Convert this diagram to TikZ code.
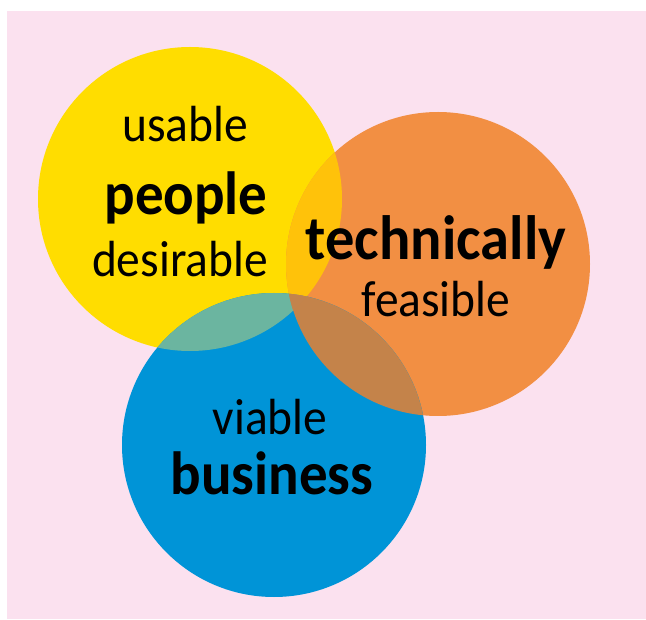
\documentclass[tikz,border=0pt]{standalone}
\usepackage{fontspec}
\setmainfont{Carlito}
\definecolor{bgpink}{HTML}{FBE1EF}
\definecolor{cyel}{HTML}{FFDD00}
\definecolor{cora}{HTML}{F28F43}
\definecolor{cblu}{HTML}{0094D7}
\definecolor{cyo}{HTML}{FFC20A}
\definecolor{cyb}{HTML}{6BB5A0}
\definecolor{cob}{HTML}{C4834A}
\definecolor{cyob}{HTML}{C3834C}
\newcommand{\tallt}[1]{\scalebox{1}[1.07]{#1}}
\begin{document}
\begin{tikzpicture}[x=1pt,y=-1pt,
  reg/.style={font=\fontsize{47.5}{47.5}\selectfont, anchor=base, inner sep=0pt},
  big/.style={font=\fontsize{57}{57}\selectfont\bfseries, anchor=base, inner sep=0pt}]
\useasboundingbox (0,0) rectangle (646,620);
\fill[bgpink] (7,11) rectangle (646,619);
\coordinate (Y) at (190,199);
\coordinate (O) at (438,264);
\coordinate (B) at (274,445);
\def\R{152}
\fill[cyel] (Y) circle (\R);
\fill[cora] (O) circle (\R);
\fill[cblu] (B) circle (\R);
\begin{scope}
  \clip (Y) circle (\R);
  \fill[cyo] (O) circle (\R);
  \fill[cyb] (B) circle (\R);
\end{scope}
\begin{scope}
  \clip (O) circle (\R);
  \fill[cob] (B) circle (\R);
\end{scope}
\begin{scope}
  \clip (Y) circle (\R);
  \clip (O) circle (\R);
  \fill[cyob] (B) circle (\R);
\end{scope}
\node[reg] (usable) at (185,142) {\tallt{usable}};
\node[big] (people) at (186,215) {\tallt{people}};
\node[reg] (desirable) at (180,277) {\tallt{desirable}};
\node[big, font=\fontsize{58.5}{58.5}\selectfont\bfseries] (technically) at (436,260) {\tallt{technically}};
\node[reg] (feasible) at (436,317) {\tallt{feasible}};
\node[reg] (viable) at (270,435) {\tallt{viable}};
\node[big] (business) at (272,495) {\tallt{business}};
\end{tikzpicture}
\end{document}
